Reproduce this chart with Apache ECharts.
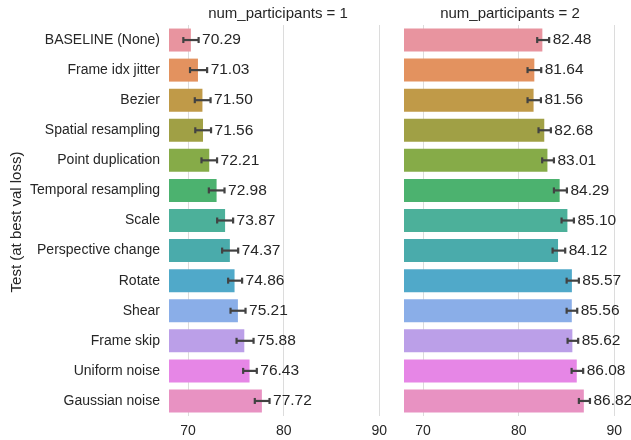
<!DOCTYPE html>
<html>
<head>
<meta charset="utf-8">
<script src="https://cdn.jsdelivr.net/npm/echarts@6/dist/echarts.min.js"></script>
<style>html,body{margin:0;padding:0;background:#fff}#main{width:631px;height:440px}</style>
</head>
<body>
<div id="main"></div>
<script>
var myChart = echarts.init(document.getElementById('main'));

var categories = ['BASELINE (None)', 'Frame idx jitter', 'Bezier', 'Spatial resampling', 'Point duplication',
    'Temporal resampling', 'Scale', 'Perspective change', 'Rotate', 'Shear', 'Frame skip', 'Uniform noise', 'Gaussian noise'];
var barColors = ['#e8949f', '#e3925f', '#c09a48', '#a0a045', '#86ab48', '#4cb26f', '#4cb09a',
    '#4aabab', '#50a9c9', '#8aaee8', '#bb9fe8', '#e686e6', '#e892c2'];

// num_participants = 1
var valuesP1 = [70.29, 71.03, 71.50, 71.56, 72.21, 72.98, 73.87, 74.37, 74.86, 75.21, 75.88, 76.43, 77.72];
var lowP1 = [69.5, 70.2, 70.7, 70.75, 71.4, 72.17, 73.04, 73.56, 74.19, 74.44, 75.07, 75.76, 76.98];
var highP1 = [71.1, 71.99, 72.35, 72.4, 73.03, 73.81, 74.71, 75.24, 75.65, 76.01, 76.85, 77.19, 78.52];

// num_participants = 2
var valuesP2 = [82.48, 81.64, 81.56, 82.68, 83.01, 84.29, 85.10, 84.12, 85.57, 85.56, 85.62, 86.08, 86.82];
var lowP2 = [81.94, 80.93, 80.93, 82.08, 82.46, 83.69, 84.49, 83.55, 85.02, 85.02, 85.12, 85.54, 86.3];
var highP2 = [83.19, 82.36, 82.33, 83.37, 83.69, 85.05, 85.78, 84.87, 86.3, 86.13, 86.23, 86.75, 87.46];

var xTicks = [70, 80, 90];
var textColor = '#262626';
var font = 'Liberation Sans, Arial, sans-serif';

function barData(vals) {
    return vals.map(function (v, i) {
        return { value: v, itemStyle: { color: barColors[i] } };
    });
}

function errData(lo, hi, vals) {
    return vals.map(function (v, i) { return [lo[i], hi[i], v, i]; });
}

function renderErr(params, api) {
    var y = api.value(3);
    var p1 = api.coord([api.value(0), y]);
    var p2 = api.coord([api.value(1), y]);
    var st = { stroke: '#424242', lineWidth: 2.2 };
    return {
        type: 'group',
        children: [
            { type: 'line', shape: { x1: p1[0], y1: p1[1], x2: p2[0], y2: p2[1] }, style: st },
            { type: 'line', shape: { x1: p1[0], y1: p1[1] - 3, x2: p1[0], y2: p1[1] + 3 }, style: st },
            { type: 'line', shape: { x1: p2[0], y1: p2[1] - 3, x2: p2[0], y2: p2[1] + 3 }, style: st },
            {
                type: 'text', x: p2[0] + 3.5, y: p2[1],
                style: {
                    text: api.value(2).toFixed(2), fill: textColor, fontSize: 15.5, fontFamily: font,
                    verticalAlign: 'middle', align: 'left'
                }
            }
        ]
    };
}

function xAxisCfg(idx) {
    return {
        type: 'value', gridIndex: idx, min: 68, max: 90.5,
        axisLine: { show: false },
        axisTick: { show: false, customValues: xTicks },
        axisLabel: { customValues: xTicks, color: textColor, fontSize: 14, fontFamily: font, margin: 8 },
        splitLine: { show: true, lineStyle: { color: '#dcdcdc', width: 1 } }
    };
}

function yAxisCfg(idx, showLabels) {
    return {
        type: 'category', gridIndex: idx, data: categories, inverse: true,
        axisLine: { show: false }, axisTick: { show: false },
        axisLabel: { show: showLabels, color: textColor, fontSize: 14, fontFamily: font, margin: 9 },
        splitLine: { show: false }
    };
}

myChart.setOption({
    backgroundColor: '#ffffff',
    animation: false,
    grid: [
        { left: 169, top: 25, width: 215, height: 391 },
        { left: 404, top: 25, width: 215, height: 391 }
    ],
    xAxis: [xAxisCfg(0), xAxisCfg(1)],
    yAxis: [yAxisCfg(0, true), yAxisCfg(1, false)],
    graphic: [
        { type: 'text', x: 278, y: 14, style: { text: 'num_participants = 1', fill: textColor, fontSize: 15, fontFamily: font, align: 'center', verticalAlign: 'middle' } },
        { type: 'text', x: 510, y: 14, style: { text: 'num_participants = 2', fill: textColor, fontSize: 15, fontFamily: font, align: 'center', verticalAlign: 'middle' } },
        { type: 'text', x: 17, y: 222, rotation: Math.PI / 2, style: { text: 'Test (at best val loss)', fill: textColor, fontSize: 15, fontFamily: font, align: 'center', verticalAlign: 'middle' } }
    ],
    series: [
        { type: 'bar', xAxisIndex: 0, yAxisIndex: 0, barWidth: 23, data: barData(valuesP1) },
        { type: 'bar', xAxisIndex: 1, yAxisIndex: 1, barWidth: 23, data: barData(valuesP2) },
        { type: 'custom', xAxisIndex: 0, yAxisIndex: 0, renderItem: renderErr, encode: { x: [0, 1], y: 3 }, data: errData(lowP1, highP1, valuesP1), z: 5 },
        { type: 'custom', xAxisIndex: 1, yAxisIndex: 1, renderItem: renderErr, encode: { x: [0, 1], y: 3 }, data: errData(lowP2, highP2, valuesP2), z: 5 }
    ]
});
</script>
</body>
</html>
